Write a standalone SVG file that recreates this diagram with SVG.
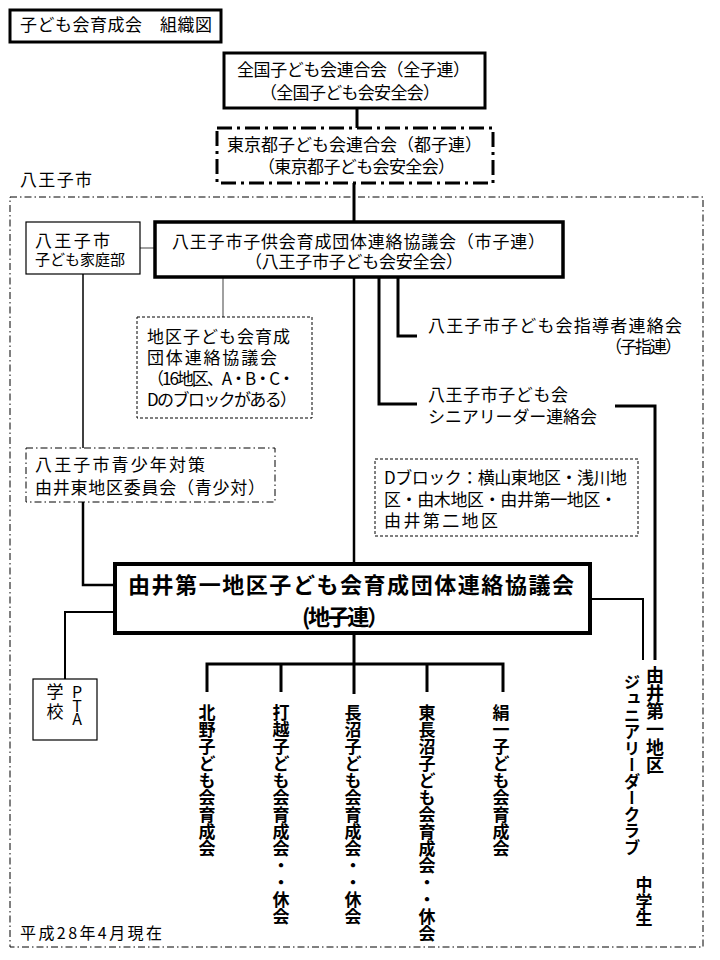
<svg xmlns="http://www.w3.org/2000/svg" width="720" height="960" viewBox="0 0 720 960">
<style>
text{font-family:"Noto Sans CJK JP","Noto Sans CJK SC",sans-serif;font-size:17px;fill:#000}
.s15{font-size:15px}
.big{font-size:22px;font-weight:700}
.v{writing-mode:vertical-rl;font-weight:700}
.vn{writing-mode:vertical-rl}
.box{fill:#fff;stroke:#000}
.thick{stroke-width:3}
.thin{stroke-width:1.2}
.dd{stroke-dasharray:15 5 3 5}
.dot{stroke-dasharray:3 2}
.dash1{stroke-dasharray:7 3 1.5 3}
.ln{fill:none;stroke:#000;stroke-width:3}
.gray{fill:none;stroke:#808080;stroke-width:1.5}
</style>
<rect width="720" height="960" fill="#fff"/>
<g id="frame">
<rect x="10" y="197" width="693" height="750" fill="none" stroke="#000" stroke-width="1" stroke-dasharray="7 3 1.5 3"/>
<text x="20" y="186" textLength="72">八王子市</text>
</g>
<g id="connectors">
<line x1="357" y1="108" x2="357" y2="128" class="ln"/>
<line x1="354" y1="183" x2="354" y2="222" class="ln"/>
<line x1="140" y1="248" x2="155" y2="248" class="gray"/>
<line x1="223" y1="277" x2="223" y2="317" class="gray"/>
<path d="M398 277V336H417" class="ln"/>
<path d="M379 277V404H417" class="ln"/>
<path d="M615 406H655V660" class="ln"/>
<line x1="83" y1="274" x2="83" y2="448" class="ln" style="stroke-width:1.5"/>
<path d="M83 502V585H115" class="ln" style="stroke-width:2.5"/>
<line x1="354" y1="277" x2="354" y2="564" class="ln" style="stroke-width:2.5"/>
<path d="M115 612H65V679" class="ln" style="stroke-width:2"/>
<path d="M590 599H643V660" class="ln" style="stroke-width:2"/>
<line x1="354" y1="633" x2="354" y2="664" class="ln"/>
<path d="M207 692V664H503V692M281 664V692M354 664V694M427 664V692" class="ln"/>
</g>
<g id="title">
<rect x="10" y="10" width="211" height="32" class="box thick"/>
<text x="20" y="31" textLength="192">子ども会育成会　組織図</text>
</g>
<g id="zenkoku">
<rect x="224" y="53" width="261" height="55" class="box thick"/>
<text x="237" y="76" textLength="233">全国子ども会連合会（全子連）</text>
<text x="260" y="99" textLength="180">（全国子ども会安全会）</text>
</g>
<g id="tokyo">
<rect x="217" y="128" width="276" height="55" class="box thick dd"/>
<text x="227" y="151" textLength="255">東京都子ども会連合会（都子連）</text>
<text x="258" y="173" textLength="197">（東京都子ども会安全会）</text>
</g>
<g id="kodomo-katei">
<rect x="26" y="222" width="114" height="52" class="box thin"/>
<text x="35" y="247" textLength="75">八王子市</text>
<text x="35" y="265" class="s15" textLength="90">子ども家庭部</text>
</g>
<g id="shikoren">
<rect x="155" y="222" width="408" height="55" class="box" stroke-width="3.5"/>
<text x="172" y="248" textLength="373">八王子市子供会育成団体連絡協議会（市子連）</text>
<text x="245" y="268" textLength="218">（八王子市子ども会安全会）</text>
</g>
<g id="chiku">
<rect x="137" y="317" width="175" height="101" class="box dot" stroke-width="1"/>
<text x="147" y="343" textLength="143">地区子ども会育成</text>
<text x="147" y="364" textLength="130">団体連絡協議会</text>
<text x="147" y="385" textLength="148">（16地区、A・B・C・</text>
<text x="147" y="406" textLength="150">Dのブロックがある）</text>
</g>
<g id="shishiren">
<text x="428" y="332" textLength="254">八王子市子ども会指導者連絡会</text>
<text x="605" y="353" textLength="77">（子指連）</text>
</g>
<g id="senior">
<text x="428" y="401" textLength="140">八王子市子ども会</text>
<text x="428" y="423" textLength="169">シニアリーダー連絡会</text>
</g>
<g id="seishotai">
<rect x="26" y="448" width="249" height="54" class="box dash1" stroke-width="1"/>
<text x="35" y="471" textLength="170">八王子市青少年対策</text>
<text x="35" y="494" textLength="230">由井東地区委員会（青少対）</text>
</g>
<g id="dblock">
<rect x="375" y="459" width="263" height="77" class="box dot" stroke-width="1"/>
<text x="384" y="484" textLength="243">Dブロック：横山東地区・浅川地</text>
<text x="384" y="506" textLength="233">区・由木地区・由井第一地区・</text>
<text x="384" y="527" textLength="114">由井第二地区</text>
</g>
<g id="chikoren">
<rect x="115" y="564" width="475" height="69" class="box" stroke-width="4"/>
<text x="128" y="593" class="big" textLength="446">由井第一地区子ども会育成団体連絡協議会</text>
<text x="302" y="625" class="big" textLength="87">(地子連）</text>
</g>
<g id="pta">
<rect x="33" y="679" width="64" height="61" class="box thin"/>
<text x="55" y="683" class="vn" style="letter-spacing:3px">学校</text>
<text x="77" y="684" class="vn" style="text-orientation:upright;font-size:16px;letter-spacing:-2.5px">PTA</text>
</g>
<g id="kitano"><text x="207" y="704" class="v">北野子ども会育成会</text></g>
<g id="uchikoshi"><text x="281" y="704" class="v">打越子ども会育成会・・休会</text></g>
<g id="naganuma"><text x="353" y="704" class="v">長沼子ども会育成会・・休会</text></g>
<g id="higashinaganuma"><text x="427" y="704" class="v">東長沼子ども会育成会・・休会</text></g>
<g id="kinuichi"><text x="501" y="704" class="v">絹一子ども会育成会</text></g>
<g id="junior">
<text x="655" y="666" class="v" style="font-size:18px">由井第一地区</text>
<text x="632" y="674" class="v" style="font-size:16.5px">ジュニアリーダークラブ</text>
<text x="644" y="876" class="v">中学生</text>
</g>
<g id="date">
<text x="20" y="939" style="font-size:16px" textLength="142">平成28年4月現在</text>
</g>
</svg>
